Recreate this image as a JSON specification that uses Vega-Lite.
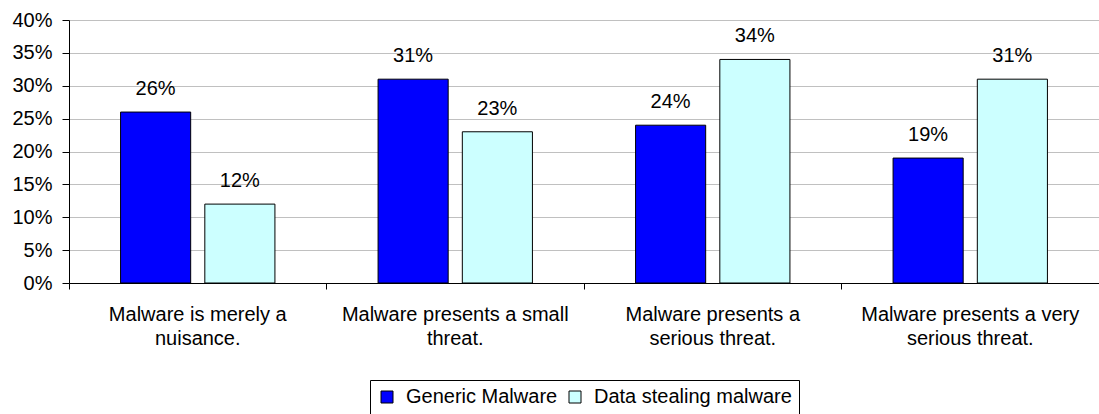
{
  "$schema": "https://vega.github.io/schema/vega-lite/v6.json",
  "width": 1030,
  "height": 263,
  "autosize": "none",
  "padding": {"left": 69, "top": 20, "right": 0, "bottom": 131},
  "background": "white",
  "config": {"font": "Liberation Sans", "view": {"stroke": null}},
  "data": {
    "values": [
      {"category": "Malware is merely a nuisance.", "series": "Generic Malware", "value": 0.26},
      {"category": "Malware is merely a nuisance.", "series": "Data stealing malware", "value": 0.12},
      {"category": "Malware presents a small threat.", "series": "Generic Malware", "value": 0.31},
      {"category": "Malware presents a small threat.", "series": "Data stealing malware", "value": 0.23},
      {"category": "Malware presents a serious threat.", "series": "Generic Malware", "value": 0.24},
      {"category": "Malware presents a serious threat.", "series": "Data stealing malware", "value": 0.34},
      {"category": "Malware presents a very serious threat.", "series": "Generic Malware", "value": 0.19},
      {"category": "Malware presents a very serious threat.", "series": "Data stealing malware", "value": 0.31}
    ]
  },
  "encoding": {
    "x": {
      "field": "category",
      "type": "nominal",
      "sort": null,
      "scale": {"paddingInner": 0, "paddingOuter": 0},
      "axis": {
        "title": null,
        "bandPosition": 0,
        "labelAngle": 0,
        "labelFontSize": 20,
        "labelColor": "black",
        "labelLineHeight": 24,
        "labelBaseline": "top",
        "labelPadding": 15,
        "labelLimit": 400,
        "labelFlush": false,
        "labelOverlap": false,
        "ticks": true,
        "tickSize": 6,
        "tickColor": "black",
        "tickWidth": 1,
        "domainColor": "black",
        "grid": false,
        "labelExpr": "datum.value == 'Malware is merely a nuisance.' ? ['Malware is merely a', 'nuisance.'] : datum.value == 'Malware presents a small threat.' ? ['Malware presents a small', 'threat.'] : datum.value == 'Malware presents a serious threat.' ? ['Malware presents a', 'serious threat.'] : ['Malware presents a very', 'serious threat.']"
      }
    },
    "xOffset": {
      "field": "series",
      "type": "nominal",
      "sort": ["Generic Malware", "Data stealing malware"],
      "scale": {"paddingInner": 0.168, "paddingOuter": 0.612}
    },
    "y": {
      "field": "value",
      "type": "quantitative",
      "scale": {"domain": [0, 0.4], "nice": false},
      "axis": {
        "title": null,
        "format": ".0%",
        "values": [0, 0.05, 0.1, 0.15, 0.2, 0.25, 0.3, 0.35, 0.4],
        "grid": true,
        "gridColor": "#c0c0c0",
        "domainColor": "black",
        "tickColor": "black",
        "tickSize": 7,
        "labelPadding": 10,
        "labelFontSize": 20,
        "labelColor": "black"
      }
    }
  },
  "layer": [
    {
      "mark": {"type": "bar", "stroke": "black", "strokeWidth": 1, "opacity": 1},
      "encoding": {
        "color": {
          "field": "series",
          "type": "nominal",
          "scale": {"domain": ["Generic Malware", "Data stealing malware"], "range": ["#0000ff", "#ccffff"]},
          "legend": {
            "orient": "none",
            "legendX": 301,
            "legendY": 360,
            "direction": "horizontal",
            "title": null,
            "strokeColor": "black",
            "fillColor": "white",
            "padding": 7,
            "labelFontSize": 20,
            "labelColor": "black",
            "labelLimit": 400,
            "symbolType": "square",
            "symbolSize": 144,
            "symbolStrokeColor": "black",
            "symbolStrokeWidth": 1,
            "symbolOpacity": 1,
            "labelOffset": 9,
            "columnPadding": 7
          }
        }
      }
    },
    {
      "mark": {"type": "text", "dy": -17, "fontSize": 20, "baseline": "alphabetic", "color": "black"},
      "encoding": {"text": {"field": "value", "type": "quantitative", "format": ".0%"}}
    }
  ]
}
